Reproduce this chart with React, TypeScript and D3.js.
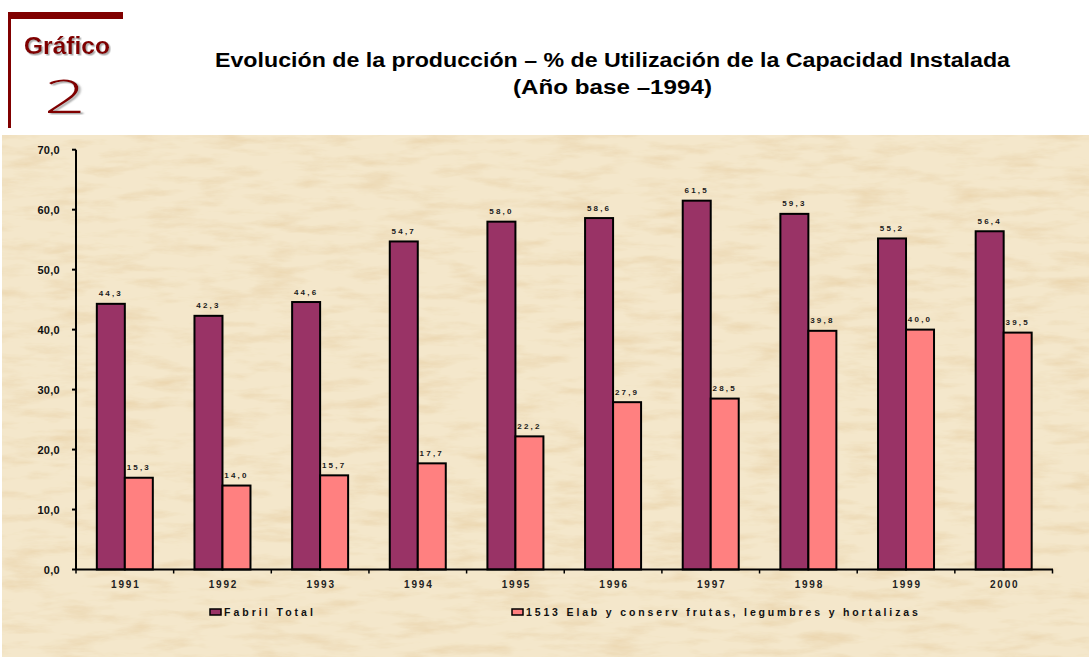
import React from "react";
import * as d3 from "d3";

const categories = ["1991", "1992", "1993", "1994", "1995", "1996", "1997", "1998", "1999", "2000"];
const fabrilTotal = [44.3, 42.3, 44.6, 54.7, 58.0, 58.6, 61.5, 59.3, 55.2, 56.4];
const frutas = [15.3, 14.0, 15.7, 17.7, 22.2, 27.9, 28.5, 39.8, 40.0, 39.5];
const seriesNames = ["Fabril Total", "1513 Elab y conserv frutas, legumbres y hortalizas"];
const yTicks = [0, 10, 20, 30, 40, 50, 60, 70];

const W = 1090;
const H = 659;
const FONT = "'Liberation Sans', Arial, Helvetica, sans-serif";
const colors = ["#993366", "#FF8080"];

const fmt = (v: number) => v.toFixed(1).replace(".", ",");

export default function App() {
  const x = d3.scaleBand<string>().domain(categories).range([76, 1052.5]).paddingInner(0).paddingOuter(0);
  const y = d3.scaleLinear().domain([0, 70]).range([569.5, 149.7]);
  const bw = 28;
  const series = [fabrilTotal, frutas];

  return (
    <svg width={W} height={H} style={{ position: "absolute", left: 0, top: 0, display: "block" }} fontFamily={FONT}>
      <defs>
        <filter id="paper" x="0" y="0" width="100%" height="100%">
          <feTurbulence type="fractalNoise" baseFrequency="0.02 0.09" numOctaves={5} seed={7} result="n" />
          <feColorMatrix
            in="n"
            type="matrix"
            values="0 0 0 0 0.86  0 0 0 0 0.72  0 0 0 0 0.50  0 0 0 -1.1 0.62"
            result="tint"
          />
          <feComposite in="tint" in2="SourceGraphic" operator="in" result="t2" />
          <feBlend in="t2" in2="SourceGraphic" mode="multiply" />
        </filter>
        <filter id="shadow" x="-20%" y="-20%" width="140%" height="140%">
          <feDropShadow dx="1.5" dy="1.5" stdDeviation="0.6" floodColor="#999" floodOpacity="0.8" />
        </filter>
      </defs>
      <rect x={0} y={0} width={W} height={H} fill="#ffffff" />
      {/* header */}
      <rect x={8} y={12} width={115} height={7} fill="#800000" />
      <rect x={8} y={12} width={3} height={116} fill="#800000" />
      <text x={24} y={54} fontSize={23} fontWeight="bold" fill="#800000" filter="url(#shadow)" textLength={86} lengthAdjust="spacingAndGlyphs">Gráfico</text>
      <g transform="translate(44,113) scale(1.55,0.97)">
        <text x={0} y={0} fontSize={47} fontWeight={300} fill="#800000" filter="url(#shadow)" style={{ fontFamily: "'Open Sans', 'Noto Sans', sans-serif" }}>2</text>
      </g>
      <text x={612.5} y={67} textAnchor="middle" fontSize={19.5} fontWeight="bold" fill="#000" textLength={795} lengthAdjust="spacingAndGlyphs">
        Evolución de la producción – % de Utilización de la Capacidad Instalada
      </text>
      <text x={612.5} y={94} textAnchor="middle" fontSize={19.5} fontWeight="bold" fill="#000" textLength={199} lengthAdjust="spacingAndGlyphs">
        (Año base –1994)
      </text>

      {/* textured background */}
      <rect x={2} y={135} width={1087} height={522} fill="#F4E7CB" filter="url(#paper)" />

      {/* y axis */}
      <line x1={76} x2={76} y1={y(70)} y2={y(0)} stroke="#000" strokeWidth={2} />
      {yTicks.map((t) => (
        <g key={t}>
          <line x1={72} x2={76} y1={y(t)} y2={y(t)} stroke="#000" strokeWidth={2} />
          <text x={60} y={y(t) + 4} textAnchor="end" fontSize={11} fontWeight="bold" letterSpacing={0.3} fill="#111">{fmt(t)}</text>
        </g>
      ))}

      {/* bars */}
      {categories.map((c, i) => {
        const gx = (x(c) as number) + (x.bandwidth() - bw * 2) / 2;
        return (
          <g key={c}>
            {series.map((s, k) => (
              <g key={k}>
                <rect
                  x={gx + k * bw}
                  y={y(s[i])}
                  width={bw}
                  height={y(0) - y(s[i])}
                  fill={colors[k]}
                  stroke="#000"
                  strokeWidth={2}
                />
                <text
                  x={gx + k * bw + bw / 2}
                  y={y(s[i]) - 7.5}
                  textAnchor="middle"
                  fontSize={8}
                  fontWeight="bold"
                  letterSpacing={2.2}
                  fill="#1a1a1a"
                >
                  {fmt(s[i])}
                </text>
              </g>
            ))}
          </g>
        );
      })}

      {/* x axis */}
      <line x1={76} x2={1053} y1={y(0)} y2={y(0)} stroke="#000" strokeWidth={2} />
      {categories.map((c, i) => (
        <line key={"t" + i} x1={(x(c) as number)} x2={(x(c) as number)} y1={y(0)} y2={y(0) + 4} stroke="#000" strokeWidth={1.5} />
      ))}
      <line x1={1052.5} x2={1052.5} y1={y(0)} y2={y(0) + 4} stroke="#000" strokeWidth={1.5} />
      {categories.map((c) => (
        <text key={"l" + c} x={(x(c) as number) + x.bandwidth() / 2 + 1} y={588} textAnchor="middle" fontSize={10} fontWeight="bold" letterSpacing={1.8} fill="#222">
          {c}
        </text>
      ))}

      {/* legend */}
      {[{ x: 210, name: seriesNames[0], ls: 3 }, { x: 512, name: seriesNames[1], ls: 2.85 }].map((l, k) => (
        <g key={k}>
          <rect x={l.x} y={609} width={11} height={6} fill={colors[k]} stroke="#000" strokeWidth={1.5} />
          <text x={l.x + 14} y={616} fontSize={10.5} fontWeight="bold" letterSpacing={l.ls} fill="#111">{l.name}</text>
        </g>
      ))}
    </svg>
  );
}
